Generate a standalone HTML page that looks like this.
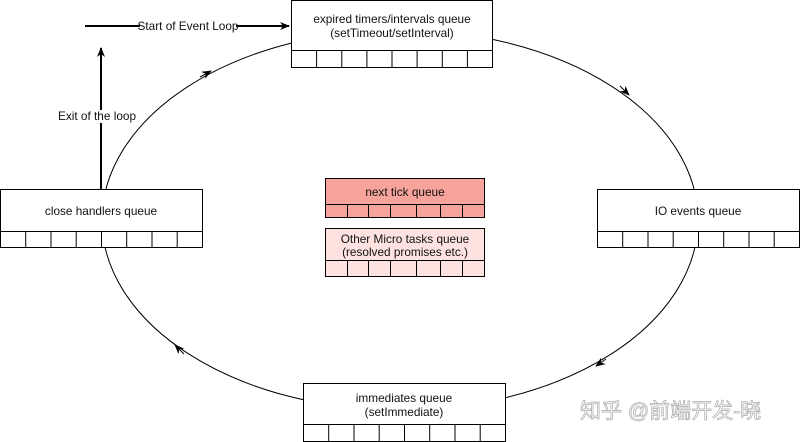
<!DOCTYPE html>
<html><head><meta charset="utf-8"><style>
html,body{margin:0;padding:0;background:#fff;width:800px;height:442px;overflow:hidden}
text{font-family:"Liberation Sans",Arial,sans-serif;font-size:11.8px;fill:#111}
</style></head><body>
<svg width="800" height="442" viewBox="0 0 800 442" xmlns="http://www.w3.org/2000/svg">
<defs>
<marker id="a" markerWidth="10" markerHeight="8" refX="9" refY="4" orient="auto" markerUnits="userSpaceOnUse">
<path d="M0,0 L10,4 L0,8 L3,4 Z" fill="#000"/></marker>
</defs>
<ellipse cx="400" cy="220" rx="298" ry="190" fill="none" stroke="#000" stroke-width="1"/>
<path d="M200,77 L211,71" stroke="#000" marker-end="url(#a)"/>
<path d="M620,86 L629,95" stroke="#000" marker-end="url(#a)"/>
<path d="M606,359 L596,366" stroke="#000" marker-end="url(#a)"/>
<path d="M184,354 L175,345" stroke="#000" marker-end="url(#a)"/>
<line x1="85" y1="26" x2="289" y2="26" stroke="#000" stroke-width="2" marker-end="url(#a)"/>
<rect x="140" y="19" width="96" height="13" fill="#fff"/>
<text x="188" y="30" text-anchor="middle">Start of Event Loop</text>
<line x1="101" y1="189" x2="101" y2="48" stroke="#000" stroke-width="2" marker-end="url(#a)"/>
<rect x="53" y="110" width="88" height="13" fill="#fff"/>
<text x="97" y="120" text-anchor="middle">Exit of the loop</text>
<g stroke="#000" stroke-width="1" fill="#fff">
<rect x="291.5" y="0.5" width="201" height="67"/>
<line x1="291.5" y1="50.5" x2="492.5" y2="50.5"/>
</g>
<g stroke="#000"><line x1="316.6" y1="50" x2="316.6" y2="67"/><line x1="341.8" y1="50" x2="341.8" y2="67"/><line x1="366.9" y1="50" x2="366.9" y2="67"/><line x1="392" y1="50" x2="392" y2="67"/><line x1="417.1" y1="50" x2="417.1" y2="67"/><line x1="442.3" y1="50" x2="442.3" y2="67"/><line x1="467.4" y1="50" x2="467.4" y2="67"/></g>
<text x="392" y="23" text-anchor="middle">expired timers/intervals queue</text>
<text x="392" y="37" text-anchor="middle">(setTimeout/setInterval)</text>
<g stroke="#000" fill="#fff"><rect x="0.5" y="189.5" width="202" height="58"/><line x1="0.5" y1="231.5" x2="202.5" y2="231.5"/></g>
<g stroke="#000"><line x1="25.7" y1="231" x2="25.7" y2="247"/><line x1="51" y1="231" x2="51" y2="247"/><line x1="76.2" y1="231" x2="76.2" y2="247"/><line x1="101.5" y1="231" x2="101.5" y2="247"/><line x1="126.7" y1="231" x2="126.7" y2="247"/><line x1="152" y1="231" x2="152" y2="247"/><line x1="177.2" y1="231" x2="177.2" y2="247"/></g>
<text x="101" y="215" text-anchor="middle">close handlers queue</text>
<g stroke="#000" fill="#fff"><rect x="597.5" y="189.5" width="202" height="58"/><line x1="597.5" y1="231.5" x2="799.5" y2="231.5"/></g>
<g stroke="#000"><line x1="622.7" y1="231" x2="622.7" y2="247"/><line x1="648" y1="231" x2="648" y2="247"/><line x1="673.2" y1="231" x2="673.2" y2="247"/><line x1="698.5" y1="231" x2="698.5" y2="247"/><line x1="723.7" y1="231" x2="723.7" y2="247"/><line x1="749" y1="231" x2="749" y2="247"/><line x1="774.2" y1="231" x2="774.2" y2="247"/></g>
<text x="698" y="215" text-anchor="middle">IO events queue</text>
<g stroke="#000" fill="#fff"><rect x="303.5" y="383.5" width="202" height="58"/><line x1="303.5" y1="424.5" x2="505.5" y2="424.5"/></g>
<g stroke="#000"><line x1="328.7" y1="424" x2="328.7" y2="441"/><line x1="354" y1="424" x2="354" y2="441"/><line x1="379.2" y1="424" x2="379.2" y2="441"/><line x1="404.5" y1="424" x2="404.5" y2="441"/><line x1="429.7" y1="424" x2="429.7" y2="441"/><line x1="455" y1="424" x2="455" y2="441"/><line x1="480.2" y1="424" x2="480.2" y2="441"/></g>
<text x="404" y="402" text-anchor="middle">immediates queue</text>
<text x="404" y="416" text-anchor="middle">(setImmediate)</text>
<g stroke="#000" fill="#f6a39b"><rect x="325.5" y="178.5" width="159" height="39"/><line x1="325.5" y1="204.5" x2="484.5" y2="204.5"/></g>
<g stroke="#000"><line x1="347.5" y1="204" x2="347.5" y2="217"/><line x1="368.5" y1="204" x2="368.5" y2="217"/><line x1="390.5" y1="204" x2="390.5" y2="217"/><line x1="416.5" y1="204" x2="416.5" y2="217"/><line x1="440.5" y1="204" x2="440.5" y2="217"/><line x1="462.5" y1="204" x2="462.5" y2="217"/></g>
<text x="405" y="196" text-anchor="middle">next tick queue</text>
<g stroke="#000" fill="#fde2df"><rect x="325.5" y="228.5" width="159" height="48"/><line x1="325.5" y1="260.5" x2="484.5" y2="260.5"/></g>
<g stroke="#000"><line x1="347.5" y1="260" x2="347.5" y2="276"/><line x1="368.5" y1="260" x2="368.5" y2="276"/><line x1="390.5" y1="260" x2="390.5" y2="276"/><line x1="416.5" y1="260" x2="416.5" y2="276"/><line x1="440.5" y1="260" x2="440.5" y2="276"/><line x1="462.5" y1="260" x2="462.5" y2="276"/></g>
<text x="405" y="243" text-anchor="middle">Other Micro tasks queue</text>
<text x="405" y="256" text-anchor="middle">(resolved promises etc.)</text>
<text x="580" y="418" style="font-family:'Liberation Sans','Noto Sans CJK SC',sans-serif;font-size:21px;fill:#fff;stroke:#aaa;stroke-width:0.7">知乎 @前端开发-晓</text>
</svg>
</body></html>
